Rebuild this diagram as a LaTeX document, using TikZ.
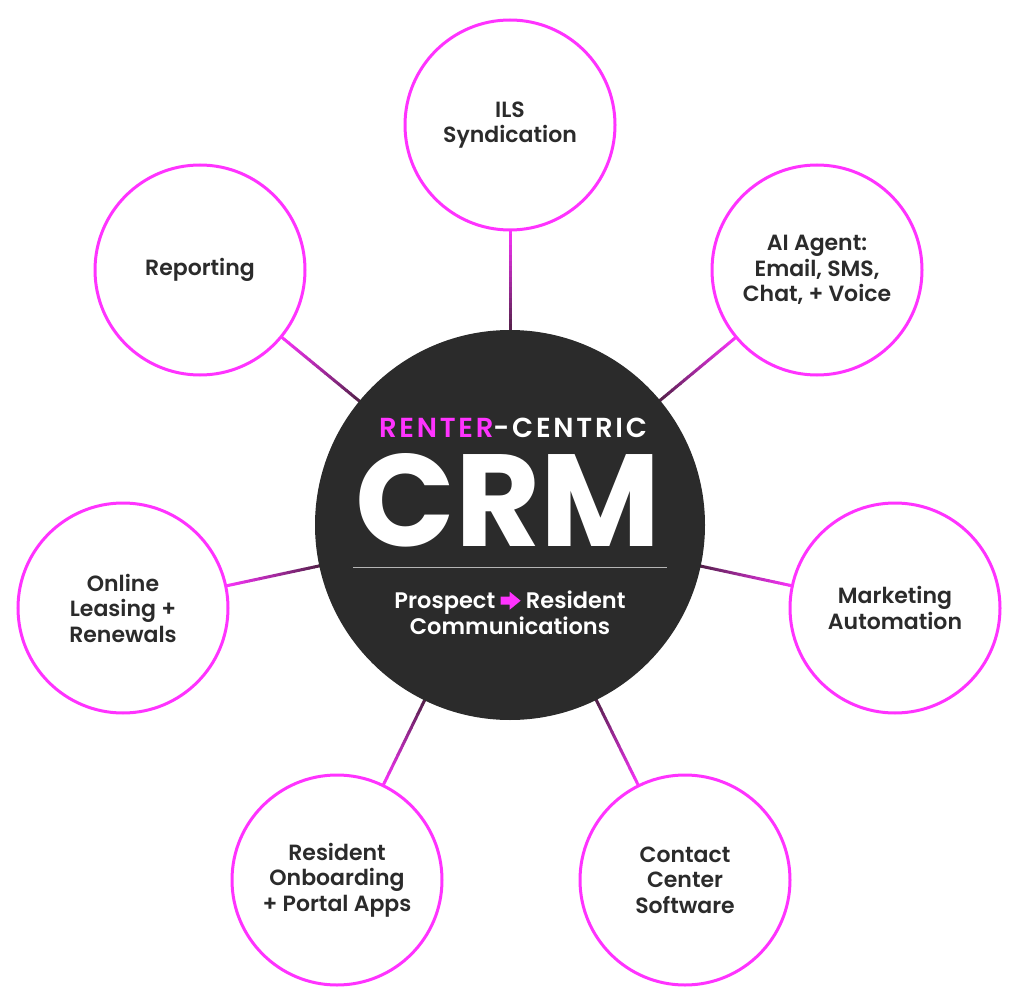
\documentclass[tikz,border=0pt]{standalone}
\usepackage{fontspec}
\setmainfont{Poppins}[BoldFont={Poppins SemiBold}]
\newfontfamily\popb{Poppins Bold}
\usetikzlibrary{calc}
\definecolor{mag}{HTML}{FF33FF}
\definecolor{dk}{HTML}{2B2B2B}
\definecolor{plum}{HTML}{4A2040}
\newcommand{\magarrow}{\tikz[x=1pt,y=1pt,baseline=0pt]\fill[mag] (0,4)--(9,4)--(9,-1)--(20,8)--(9,17)--(9,12)--(0,12)--cycle;}
\begin{document}
\begin{tikzpicture}[x=1pt,y=-1pt,
  outer/.style={circle,draw=mag,line width=3pt,fill=white,minimum size=210pt,inner sep=0pt,align=center,font=\fontsize{22}{25.5}\selectfont\bfseries,text=dk},
  ]
\useasboundingbox (0,0) rectangle (1020,1000);
\coordinate (c) at (510,525);
\foreach \n/\x/\y in {ils/510/125, ai/817/270, mk/895/608, cc/685/880, rs/337/880, ol/123/608, rp/200/270}{
  \coordinate (p\n) at (\x,\y);
  \coordinate (a\n) at ($(c)!190pt!(p\n)$);
  \coordinate (b\n) at ($(p\n)!104pt!(c)$);
  \foreach \i in {0,...,19}{
    \pgfmathsetmacro\t{\i/20}\pgfmathsetmacro\u{(\i+1.1)/20}\pgfmathsetmacro\pc{100*(\i+0.5)/20}
    \draw[line width=3pt,color=mag!\pc!plum] ($(a\n)!\t!(b\n)$) -- ($(a\n)!\u!(b\n)$);
  }
}
\node[circle,fill=dk,minimum size=390pt,inner sep=0pt] (ctr) at (c) {};
\node[outer] (ils) at (pils) {ILS\\Syndication};
\node[outer] (ai) at (pai) {AI Agent:\\Email, SMS,\\Chat, + Voice};
\node[outer] (mk) at (pmk) {Marketing\\Automation};
\node[outer] (cc) at (pcc) {Contact\\Center\\Software};
\node[outer] (rs) at (prs) {Resident\\Onboarding\\+ Portal Apps};
\node[outer] (ol) at (pol) {Online\\Leasing +\\Renewals};
\node[outer] (rp) at (prp) {Reporting};
\node[font=\fontsize{27.5}{27.5}\selectfont\bfseries\addfontfeature{LetterSpace=10},text=white] (rc) at (513,428) {\textcolor{mag}{RENTER}-CENTRIC};
\node[font=\fontsize{131}{131}\popb,text=white] (crm) at (508,500) {CRM};
\coordinate (l1) at (353,567); \coordinate (l2) at (667,567);
\draw[line width=1pt,color=white!65!dk] (l1) -- (l2);
\node[font=\fontsize{22.5}{26}\selectfont\bfseries,text=white,align=center] (pr) at (510,613) {Prospect \magarrow\ Resident\\Communications};
\end{tikzpicture}
\end{document}
